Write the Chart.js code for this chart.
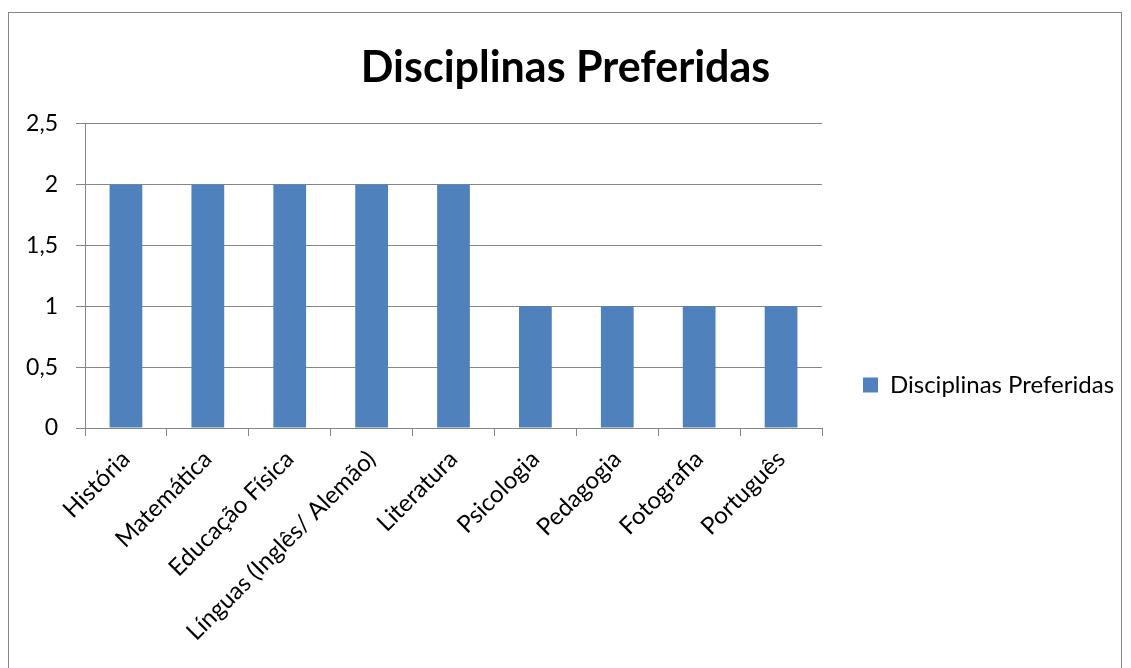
<!DOCTYPE html>
<html>
<head>
<meta charset="utf-8">
<script src="https://cdn.jsdelivr.net/npm/chart.js@4"></script>
<style>
  html, body { margin: 0; padding: 0; background: #fff; }
  #wrap { width: 1131px; height: 668px; }
</style>
</head>
<body>
<div id="wrap"><canvas id="disciplinasChart" width="1131" height="668"></canvas></div>
<script>
const disciplinas = ['História', 'Matemática', 'Educação Física', 'Línguas (Inglês/ Alemão)', 'Literatura', 'Psicologia', 'Pedagogia', 'Fotografia', 'Português'];
const votos = [2, 2, 2, 2, 2, 1, 1, 1, 1];
const yTickLabels = ['0', '0,5', '1', '1,5', '2', '2,5'];

const grey = '#868686';
const blue = '#4F81BD';

// frame around the whole chart + white background
const frame = {
    id: 'frame',
    beforeDraw(chart) {
        const c = chart.ctx;
        c.save();
        c.fillStyle = '#fff';
        c.fillRect(0, 0, chart.width, chart.height);
        c.strokeStyle = grey;
        c.lineWidth = 1;
        c.strokeRect(8.5, 12.5, chart.width - 18, chart.height + 20);
        c.restore();
    }
};

// title spans the full width; legend sits right of the plot, a bit below its middle
const placeBlocks = {
    id: 'placeBlocks',
    afterLayout(chart) {
        const t = chart.titleBlock;
        t.left = 0;
        t.right = chart.width;
        t.width = chart.width;

        const lg = chart.legend;
        const w = lg.width, h = lg.height;
        lg.left = chart.chartArea.right + 31;
        lg.right = lg.left + w;
        lg.top = 385 - h / 2;
        lg.bottom = lg.top + h;
    }
};

Chart.defaults.font.family = 'Lato, "Open Sans", sans-serif';
Chart.defaults.color = '#000';

const ctx = document.getElementById('disciplinasChart').getContext('2d');
new Chart(ctx, {
    type: 'bar',
    data: {
        labels: disciplinas,
        datasets: [{
            label: 'Disciplinas Preferidas',
            data: votos,
            backgroundColor: blue,
            borderWidth: 0,
            barPercentage: 0.4,
            categoryPercentage: 1
        }]
    },
    options: {
        responsive: false,
        animation: false,
        layout: {
            padding: { left: 0, right: 309, top: 12, bottom: 0 }
        },
        plugins: {
            title: {
                display: true,
                text: 'Disciplinas Preferidas',
                font: { size: 43, weight: 'bold' },
                color: '#000',
                padding: { top: 30, bottom: 30 }
            },
            legend: {
                position: 'chartArea',
                labels: {
                    boxWidth: 15,
                    boxHeight: 15,
                    padding: 10,
                    font: { size: 24 }
                }
            },
            tooltip: { enabled: false }
        },
        scales: {
            x: {
                grid: {
                    offset: true,
                    drawOnChartArea: false,
                    drawTicks: true,
                    tickLength: 8,
                    color: grey
                },
                border: { color: grey },
                ticks: {
                    minRotation: 45,
                    maxRotation: 45,
                    autoSkip: false,
                    padding: 9,
                    font: { size: 24 }
                },
                afterFit(scale) { scale.height = 240; }
            },
            y: {
                min: 0,
                max: 2.5,
                ticks: {
                    stepSize: 0.5,
                    padding: 18,
                    font: { size: 23 },
                    callback: (v, i) => yTickLabels[i]
                },
                grid: { color: grey, tickLength: 9 },
                border: { color: grey },
                afterFit(scale) { scale.width = 85; }
            }
        }
    },
    plugins: [frame, placeBlocks]
});
</script>
</body>
</html>
